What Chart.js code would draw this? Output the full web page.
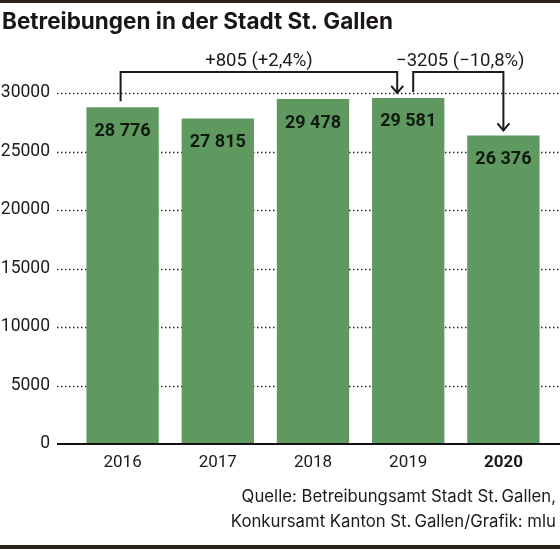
<!DOCTYPE html>
<html>
<head>
<meta charset="utf-8">
<script src="https://cdn.jsdelivr.net/npm/chart.js@4"></script>
<style>
  body { margin: 0; background: #fff; }
  canvas { display: block; }
</style>
</head>
<body>
<canvas id="barChart" width="560" height="549"></canvas>
<script>
// Betreibungen in der Stadt St. Gallen
const years = ['2016', '2017', '2018', '2019', '2020'];
const betreibungen = [28776, 27815, 29478, 29581, 26376];
const yTicks = [0, 5000, 10000, 15000, 20000, 25000, 30000];

// Veränderungen (Pfeile oben)
const changeFrom = [0, 3];
const changeTo = [3, 4];
const changeText = ['+805 (+2,4%)', '\u22123205 (\u221210,8%)'];

const title = 'Betreibungen in der Stadt St. Gallen';
const source = ['Quelle: Betreibungsamt Stadt St.\u2009Gallen,', 'Konkursamt Kanton St.\u2009Gallen/Grafik: mlu'];

const FONT = 'Roboto, "Liberation Sans", sans-serif';
const FONT2 = 'Inter, Roboto, sans-serif';
const green = 'rgb(95, 153, 96)';
const ink = '#1b1b1b';

function fmt(v) {
  return String(v).replace(/\B(?=(\d{3})+(?!\d))/g, ' ');
}

const decor = {
  id: 'decor',
  beforeDraw(chart) {
    const c = chart.ctx;
    c.save();
    c.fillStyle = '#fff';
    c.fillRect(0, 0, chart.width, chart.height);
    // Linien oben und unten
    c.fillStyle = '#2b241c';
    c.fillRect(0, 0, chart.width, 3);
    c.fillRect(0, chart.height - 4, chart.width, 4);
    // Titel
    c.fillStyle = '#1a1614';
    c.font = 'bold 22.5px ' + FONT2;
    c.textAlign = 'left';
    c.textBaseline = 'alphabetic';
    c.fillText(title, 2, 29);
    // Quelle
    c.fillStyle = ink;
    c.font = '16.75px ' + FONT2;
    c.textAlign = 'right';
    c.fillText(source[0], 556, 502);
    c.fillText(source[1], 556, 527);
    c.restore();
  },
  beforeDatasetsDraw(chart) {
    const c = chart.ctx;
    const y = chart.scales.y;
    const x0 = 57;
    c.save();
    c.strokeStyle = '#222';
    c.lineWidth = 1.5;
    c.setLineDash([1.5, 2.5]);
    yTicks.forEach(t => {
      if (t === 0) return;
      const py = Math.round(y.getPixelForValue(t)) + 0.5;
      c.beginPath();
      c.moveTo(x0, py);
      c.lineTo(chart.width, py);
      c.stroke();
    });
    c.restore();
  },
  afterDatasetsDraw(chart) {
    const c = chart.ctx;
    const x = chart.scales.x;
    const y = chart.scales.y;
    c.save();
    // Nulllinie
    c.strokeStyle = '#111';
    c.lineWidth = 2;
    c.beginPath();
    c.moveTo(57, y.getPixelForValue(0));
    c.lineTo(chart.width, y.getPixelForValue(0));
    c.stroke();

    // Werte in den Balken
    c.fillStyle = '#0f1a0f';
    c.font = 'bold 18px ' + FONT;
    c.textAlign = 'center';
    c.textBaseline = 'middle';
    betreibungen.forEach((v, i) => {
      c.fillText(fmt(v), x.getPixelForValue(i), y.getPixelForValue(v) + 24);
    });

    // Pfeile
    const top = 72;
    const offs = [[-2, -11], [5, 0]];
    c.strokeStyle = ink;
    c.lineWidth = 2;
    changeFrom.forEach((f, k) => {
      const t = changeTo[k];
      const xa = x.getPixelForValue(f) + offs[k][0];
      const xb = x.getPixelForValue(t) + offs[k][1];
      const ya = y.getPixelForValue(betreibungen[f]) - 6;
      const yb = y.getPixelForValue(betreibungen[t]) - 5;
      c.beginPath();
      c.moveTo(xa, ya);
      c.lineTo(xa, top);
      c.lineTo(xb, top);
      c.lineTo(xb, yb);
      c.stroke();
      c.beginPath();
      c.moveTo(xb - 6, yb - 7);
      c.lineTo(xb, yb);
      c.lineTo(xb + 6, yb - 7);
      c.stroke();
      c.fillStyle = ink;
      c.font = '18.5px ' + FONT;
      c.textAlign = 'center';
      c.textBaseline = 'alphabetic';
      c.fillText(changeText[k], (xa + xb) / 2 + (k === 1 ? 2 : 0), 66);
    });
    c.restore();
  }
};

const ctx = document.getElementById('barChart');

new Chart(ctx, {
  type: 'bar',
  data: {
    labels: years,
    datasets: [{
      data: betreibungen,
      backgroundColor: green,
      borderWidth: 0,
      categoryPercentage: 1,
      barPercentage: 0.76
    }]
  },
  options: {
    responsive: false,
    animation: false,
    layout: { padding: { top: 93, right: 9, bottom: 75, left: 0 } },
    plugins: {
      legend: { display: false },
      tooltip: { enabled: false }
    },
    scales: {
      x: {
        grid: { display: false, drawTicks: false },
        border: { display: false },
        afterFit: s => { s.height = 30; },
        ticks: {
          color: ink,
          padding: 9,
          font: c => ({ family: FONT, size: 17, weight: c.index === 4 ? 'bold' : 'normal' })
        }
      },
      y: {
        min: 0,
        max: 30000,
        grid: { display: false, drawTicks: false },
        border: { display: false },
        afterFit: s => { s.width = 75; },
        afterBuildTicks: s => { s.ticks = yTicks.map(v => ({ value: v })); },
        ticks: {
          color: ink,
          padding: 25,
          font: { family: FONT, size: 17.5 },
          callback: v => String(v)
        }
      }
    }
  },
  plugins: [decor]
});
</script>
</body>
</html>
